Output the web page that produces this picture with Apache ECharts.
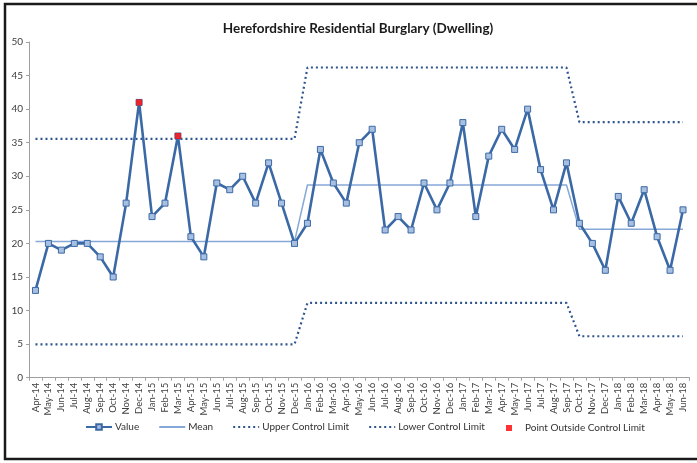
<!DOCTYPE html>
<html>
<head>
<meta charset="utf-8">
<script src="https://cdn.jsdelivr.net/npm/echarts@6/dist/echarts.min.js"></script>
<style>
  html, body { margin: 0; padding: 0; background: #ffffff; }
  #chart { width: 697px; height: 463px; }
</style>
</head>
<body>
<div id="chart"></div>
<script>
// Monthly categories, Apr-14 to Jun-18
var months = [
  'Apr-14','May-14','Jun-14','Jul-14','Aug-14','Sep-14','Oct-14','Nov-14','Dec-14','Jan-15','Feb-15','Mar-15',
  'Apr-15','May-15','Jun-15','Jul-15','Aug-15','Sep-15','Oct-15','Nov-15','Dec-15','Jan-16','Feb-16','Mar-16',
  'Apr-16','May-16','Jun-16','Jul-16','Aug-16','Sep-16','Oct-16','Nov-16','Dec-16','Jan-17','Feb-17','Mar-17',
  'Apr-17','May-17','Jun-17','Jul-17','Aug-17','Sep-17','Oct-17','Nov-17','Dec-17','Jan-18','Feb-18','Mar-18',
  'Apr-18','May-18','Jun-18'
];

// Recorded dwelling burglaries per month
var values = [
  13, 20, 19, 20, 20, 18, 15, 26, 41, 24, 26, 36,
  21, 18, 29, 28, 30, 26, 32, 26, 20, 23, 34, 29,
  26, 35, 37, 22, 24, 22, 29, 25, 29, 38, 24, 33,
  37, 34, 40, 31, 25, 32, 23, 20, 16, 27, 23, 28,
  21, 16, 25
];

// Control-chart phases: length in months, mean, upper and lower limits
var phaseLengths = [21, 21, 9];
var phaseMean    = [20.27, 28.7, 22.1];
var phaseUpper   = [35.57, 46.2, 38.06];
var phaseLower   = [4.97, 11.13, 6.17];

// Months flagged outside the control limits
var outsideMonths = ['Dec-14', 'Mar-15'];

var yTicks = { min: 0, max: 50, interval: 5 };

function stepSeries(levels) {
  var out = [];
  for (var p = 0; p < phaseLengths.length; p++) {
    for (var i = 0; i < phaseLengths[p]; i++) out.push(levels[p]);
  }
  return out;
}

var meanData = stepSeries(phaseMean);
var uclData = stepSeries(phaseUpper);
var lclData = stepSeries(phaseLower);
var outsideData = outsideMonths.map(function (m) {
  return [m, values[months.indexOf(m)]];
});

var FONT = 'Lato';
var legendText = { fontFamily: FONT, fontSize: 10, color: '#333', padding: [0, 0, 0, -2] };
var noSymbol = { opacity: 0 };

var chart = echarts.init(document.getElementById('chart'));

chart.setOption({
  animation: false,
  backgroundColor: '#ffffff',
  title: {
    text: 'Herefordshire Residential Burglary (Dwelling)',
    left: 353,
    textAlign: 'center',
    top: 17,
    textStyle: { fontFamily: FONT, fontWeight: 'bold', fontSize: 13.5, color: '#1a1a1a' }
  },
  grid: { left: 29, right: 7.5, top: 42, bottom: 85.3, containLabel: false },
  legend: [
    {
      top: 422,
      left: 85,
      padding: 0,
      itemWidth: 26,
      itemHeight: 7,
      itemGap: 19,
      textStyle: legendText,
      data: [
        { name: 'Value' },
        { name: 'Mean', itemStyle: noSymbol },
        { name: 'Upper Control Limit', itemStyle: noSymbol },
        { name: 'Lower Control Limit', itemStyle: noSymbol }
      ]
    },
    {
      top: 423,
      left: 506,
      padding: 0,
      itemWidth: 6,
      itemHeight: 6,
      textStyle: { fontFamily: FONT, fontSize: 10, color: '#333', padding: [0, 0, 0, 8] },
      data: [{ name: 'Point Outside Control Limit' }]
    }
  ],
  xAxis: {
    type: 'category',
    data: months,
    boundaryGap: true,
    axisLine: { lineStyle: { color: '#a0a0a0', width: 1 } },
    axisTick: { show: true, length: 3, lineStyle: { color: '#a0a0a0' } },
    axisLabel: {
      interval: 0,
      rotate: 90,
      fontFamily: FONT,
      fontSize: 9.5,
      color: '#404040',
      margin: 5
    },
    splitLine: { show: false }
  },
  yAxis: {
    type: 'value',
    min: yTicks.min,
    max: yTicks.max,
    interval: yTicks.interval,
    axisLine: { show: true, lineStyle: { color: '#a0a0a0', width: 1 } },
    axisTick: { show: true, length: 3, lineStyle: { color: '#a0a0a0' } },
    axisLabel: { fontFamily: FONT, fontSize: 10, color: '#404040', margin: 6 },
    splitLine: { show: false }
  },
  series: [
    {
      name: 'Mean',
      type: 'line',
      data: meanData,
      symbol: 'none',
      lineStyle: { color: '#86a8d6', width: 1.5 },
      itemStyle: { color: '#86a8d6' },
      z: 2
    },
    {
      name: 'Upper Control Limit',
      type: 'line',
      data: uclData,
      symbol: 'none',
      lineStyle: { color: '#2f5590', width: 2.2, type: [2, 3] },
      itemStyle: { color: '#2f5590' },
      z: 2
    },
    {
      name: 'Lower Control Limit',
      type: 'line',
      data: lclData,
      symbol: 'none',
      lineStyle: { color: '#2f5590', width: 2.2, type: [2, 3] },
      itemStyle: { color: '#2f5590' },
      z: 2
    },
    {
      name: 'Value',
      type: 'line',
      data: values,
      symbol: 'rect',
      symbolSize: 6,
      showAllSymbol: true,
      lineStyle: { color: '#3b69a6', width: 2.6 },
      itemStyle: { color: '#a7bfe0', borderColor: '#3b69a6', borderWidth: 1 },
      z: 3
    },
    {
      name: 'Point Outside Control Limit',
      type: 'scatter',
      data: outsideData,
      symbol: 'rect',
      symbolSize: 6,
      itemStyle: { color: '#ff0000' },
      z: 4
    }
  ],
  graphic: [
    {
      type: 'rect',
      shape: { x: 5, y: 4, width: 720, height: 455 },
      style: { fill: 'none', stroke: '#1a1a1a', lineWidth: 2.5 },
      silent: true,
      z: 100
    }
  ]
});
</script>
</body>
</html>
